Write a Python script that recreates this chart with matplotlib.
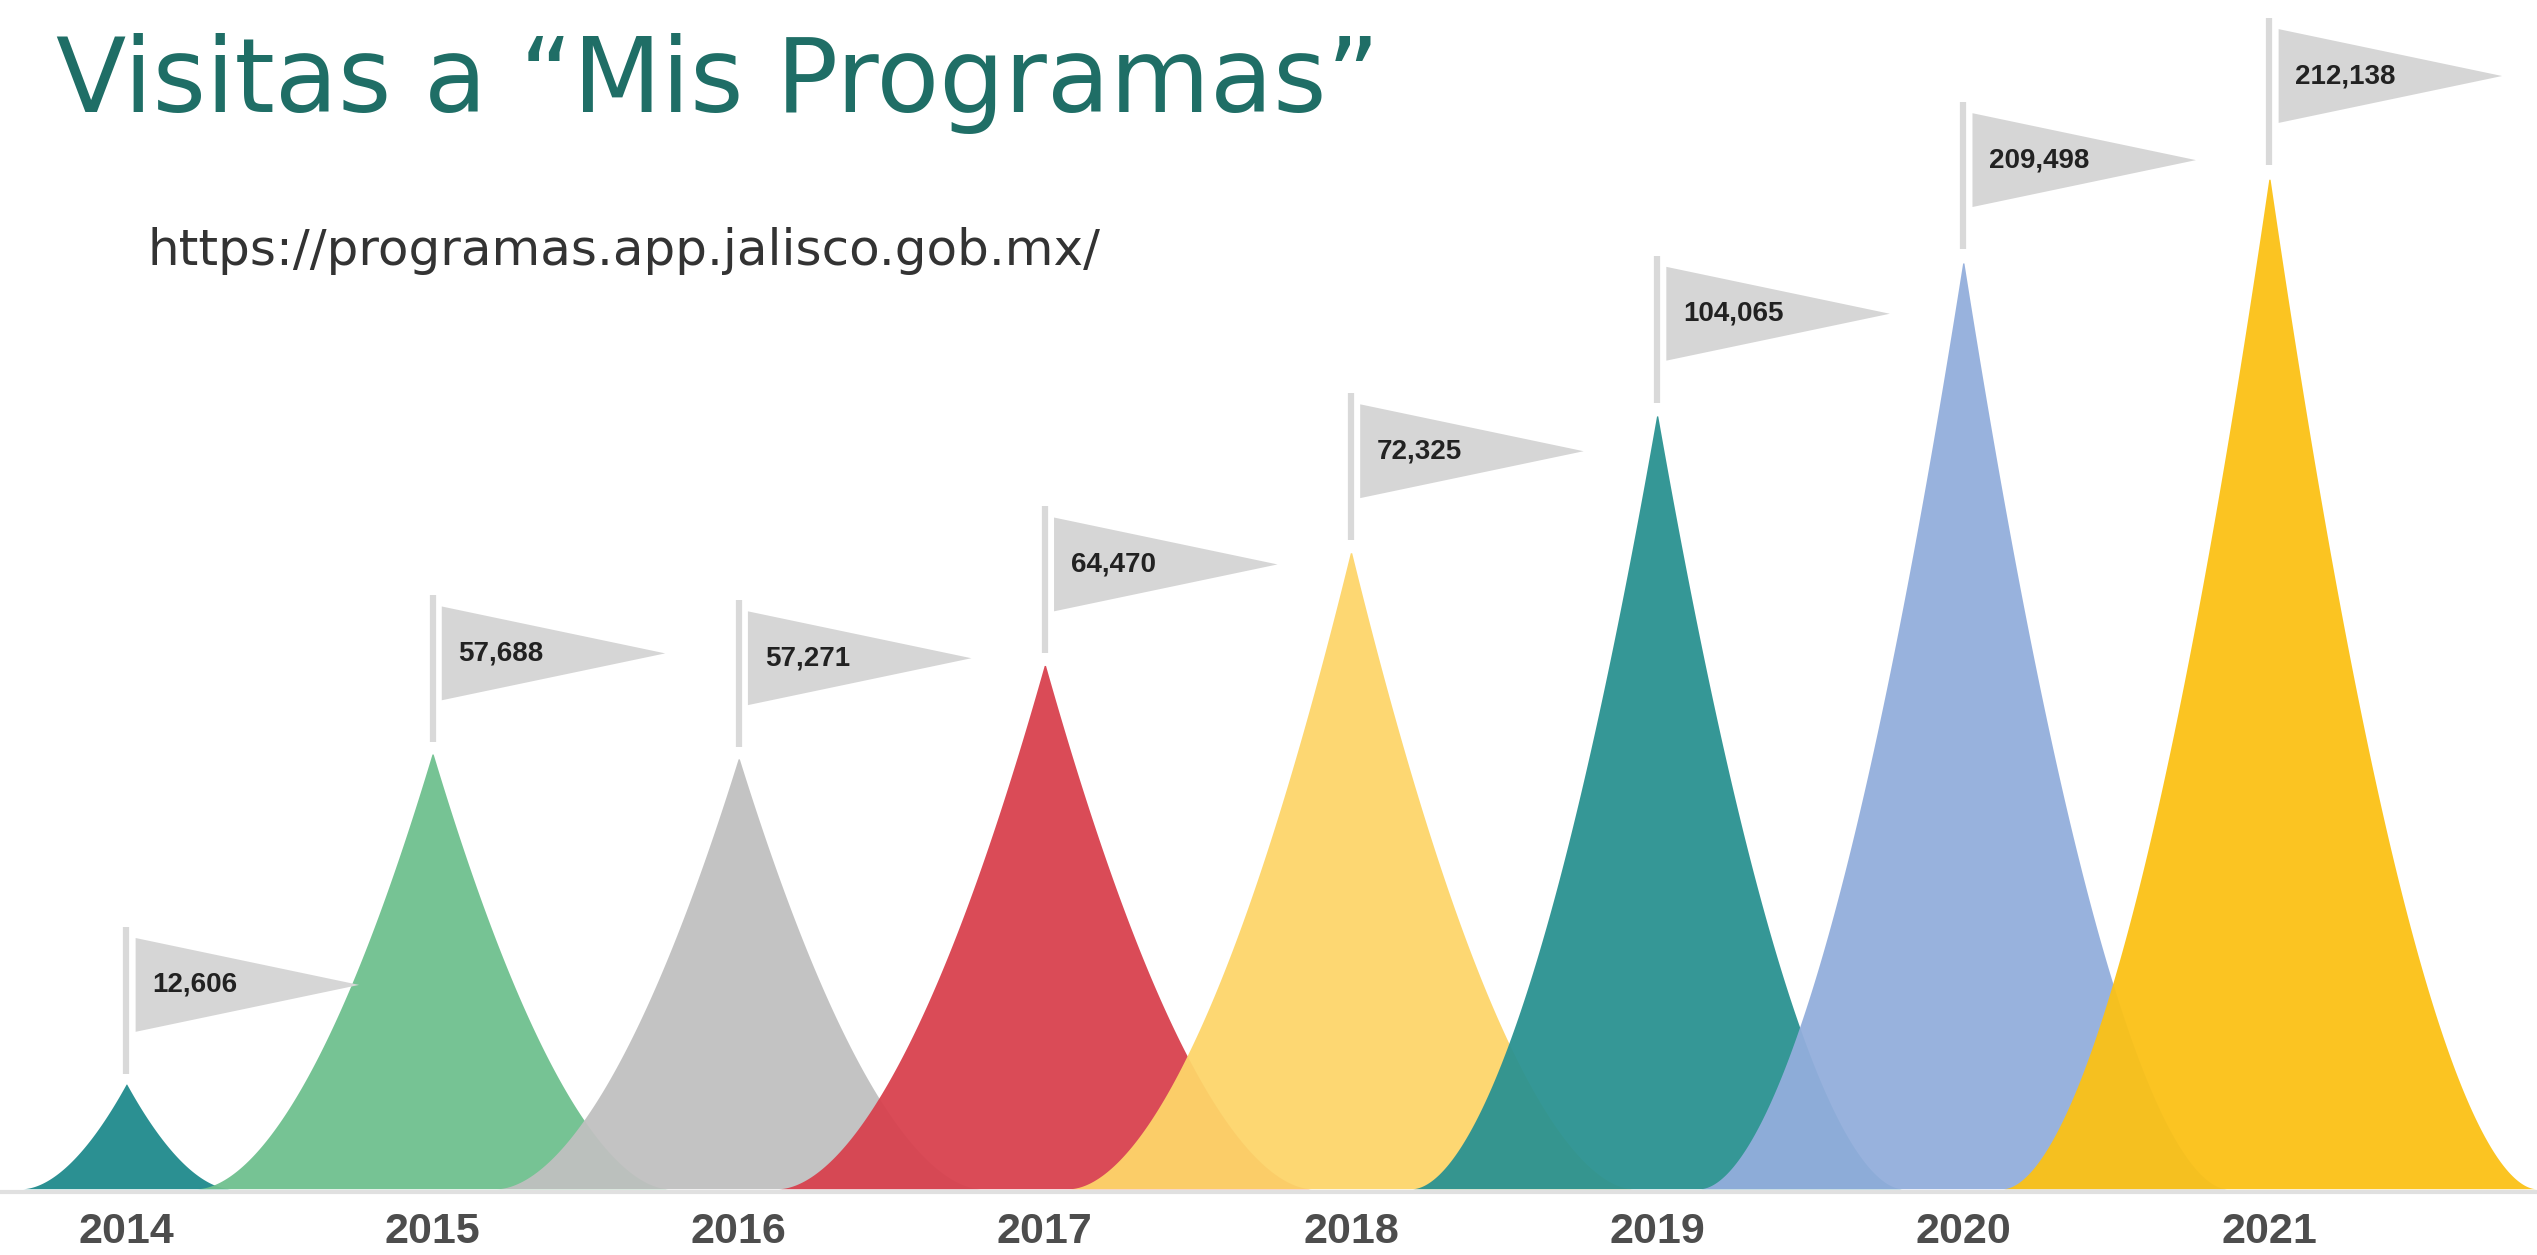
import matplotlib
matplotlib.use("Agg")
import matplotlib.pyplot as plt
import numpy as np
from matplotlib.patches import Polygon

# ---- data ----
years = ["2014", "2015", "2016", "2017", "2018", "2019", "2020", "2021"]
visits = [12606, 57688, 57271, 64470, 72325, 104065, 209498, 212138]
# drawn spike heights (not proportional to visits)
peak_height = [65, 270, 267, 325, 395, 480, 575, 627]

# ---- style ----
colors = ["#1f8a8c", "#6fc08e", "#c0c0c0", "#d8414e",
          "#fdd56a", "#2a9291", "#93aedc", "#fbc116"]
half_width = [0.34, 0.77, 0.79, 0.87, 0.92, 0.80, 0.86, 0.87]
shape_power = 1.8
pole_gap, pole_len = 6, 97
flag_h, flag_w = 58, 0.76

fig = plt.figure(figsize=(25.37, 12.55), dpi=100)
ax = fig.add_axes([0, 0, 1, 1])
ax.set_xlim(-0.413, 7.874)
ax.set_ylim(-41, 735)
ax.axis("off")

pos = np.arange(len(years))

# baseline
ax.axhline(-2, color="#e0e0e0", lw=3, zorder=1)

for i, (c, h, col, w) in enumerate(zip(pos, peak_height, colors, half_width)):
    xs = np.linspace(c - w, c + w, 400)
    ys = h * np.clip(1 - np.abs(xs - c) / w, 0, 1) ** shape_power
    ax.fill_between(xs, 0, ys, color=col, alpha=0.95, lw=0, zorder=2 + i)

    # pole
    base = h + pole_gap
    top = h + pole_len
    ax.plot([c, c], [base, top], color="#d9d9d9", lw=4.5,
            solid_capstyle="butt", zorder=20)
    # pennant
    ft = top - 7
    fb = ft - flag_h
    tri = Polygon([[c + 0.03, ft], [c + 0.03, fb], [c + flag_w, (ft + fb) / 2]],
                  closed=True, facecolor="#d6d6d6", edgecolor="none", zorder=20)
    ax.add_patch(tri)
    ax.text(c + 0.085, (ft + fb) / 2, f"{visits[i]:,}", ha="left", va="center",
            fontsize=20, fontweight="bold", color="#222222",
            family="Liberation Sans", zorder=21)

    # year label
    ax.text(c, -27, years[i], ha="center", va="center", fontsize=31,
            fontweight="bold", color="#4d4d4d", family="Liberation Sans")

fig.text(0.022, 0.974, "Visitas a \u201cMis Programas\u201d", ha="left", va="top",
         fontsize=74, color="#1f6e66", family="DejaVu Sans")
fig.text(0.058, 0.80, "https://programas.app.jalisco.gob.mx/", ha="left",
         va="center", fontsize=36, color="#333333", family="DejaVu Sans")

fig.savefig("out.png", dpi=100, facecolor="white")
